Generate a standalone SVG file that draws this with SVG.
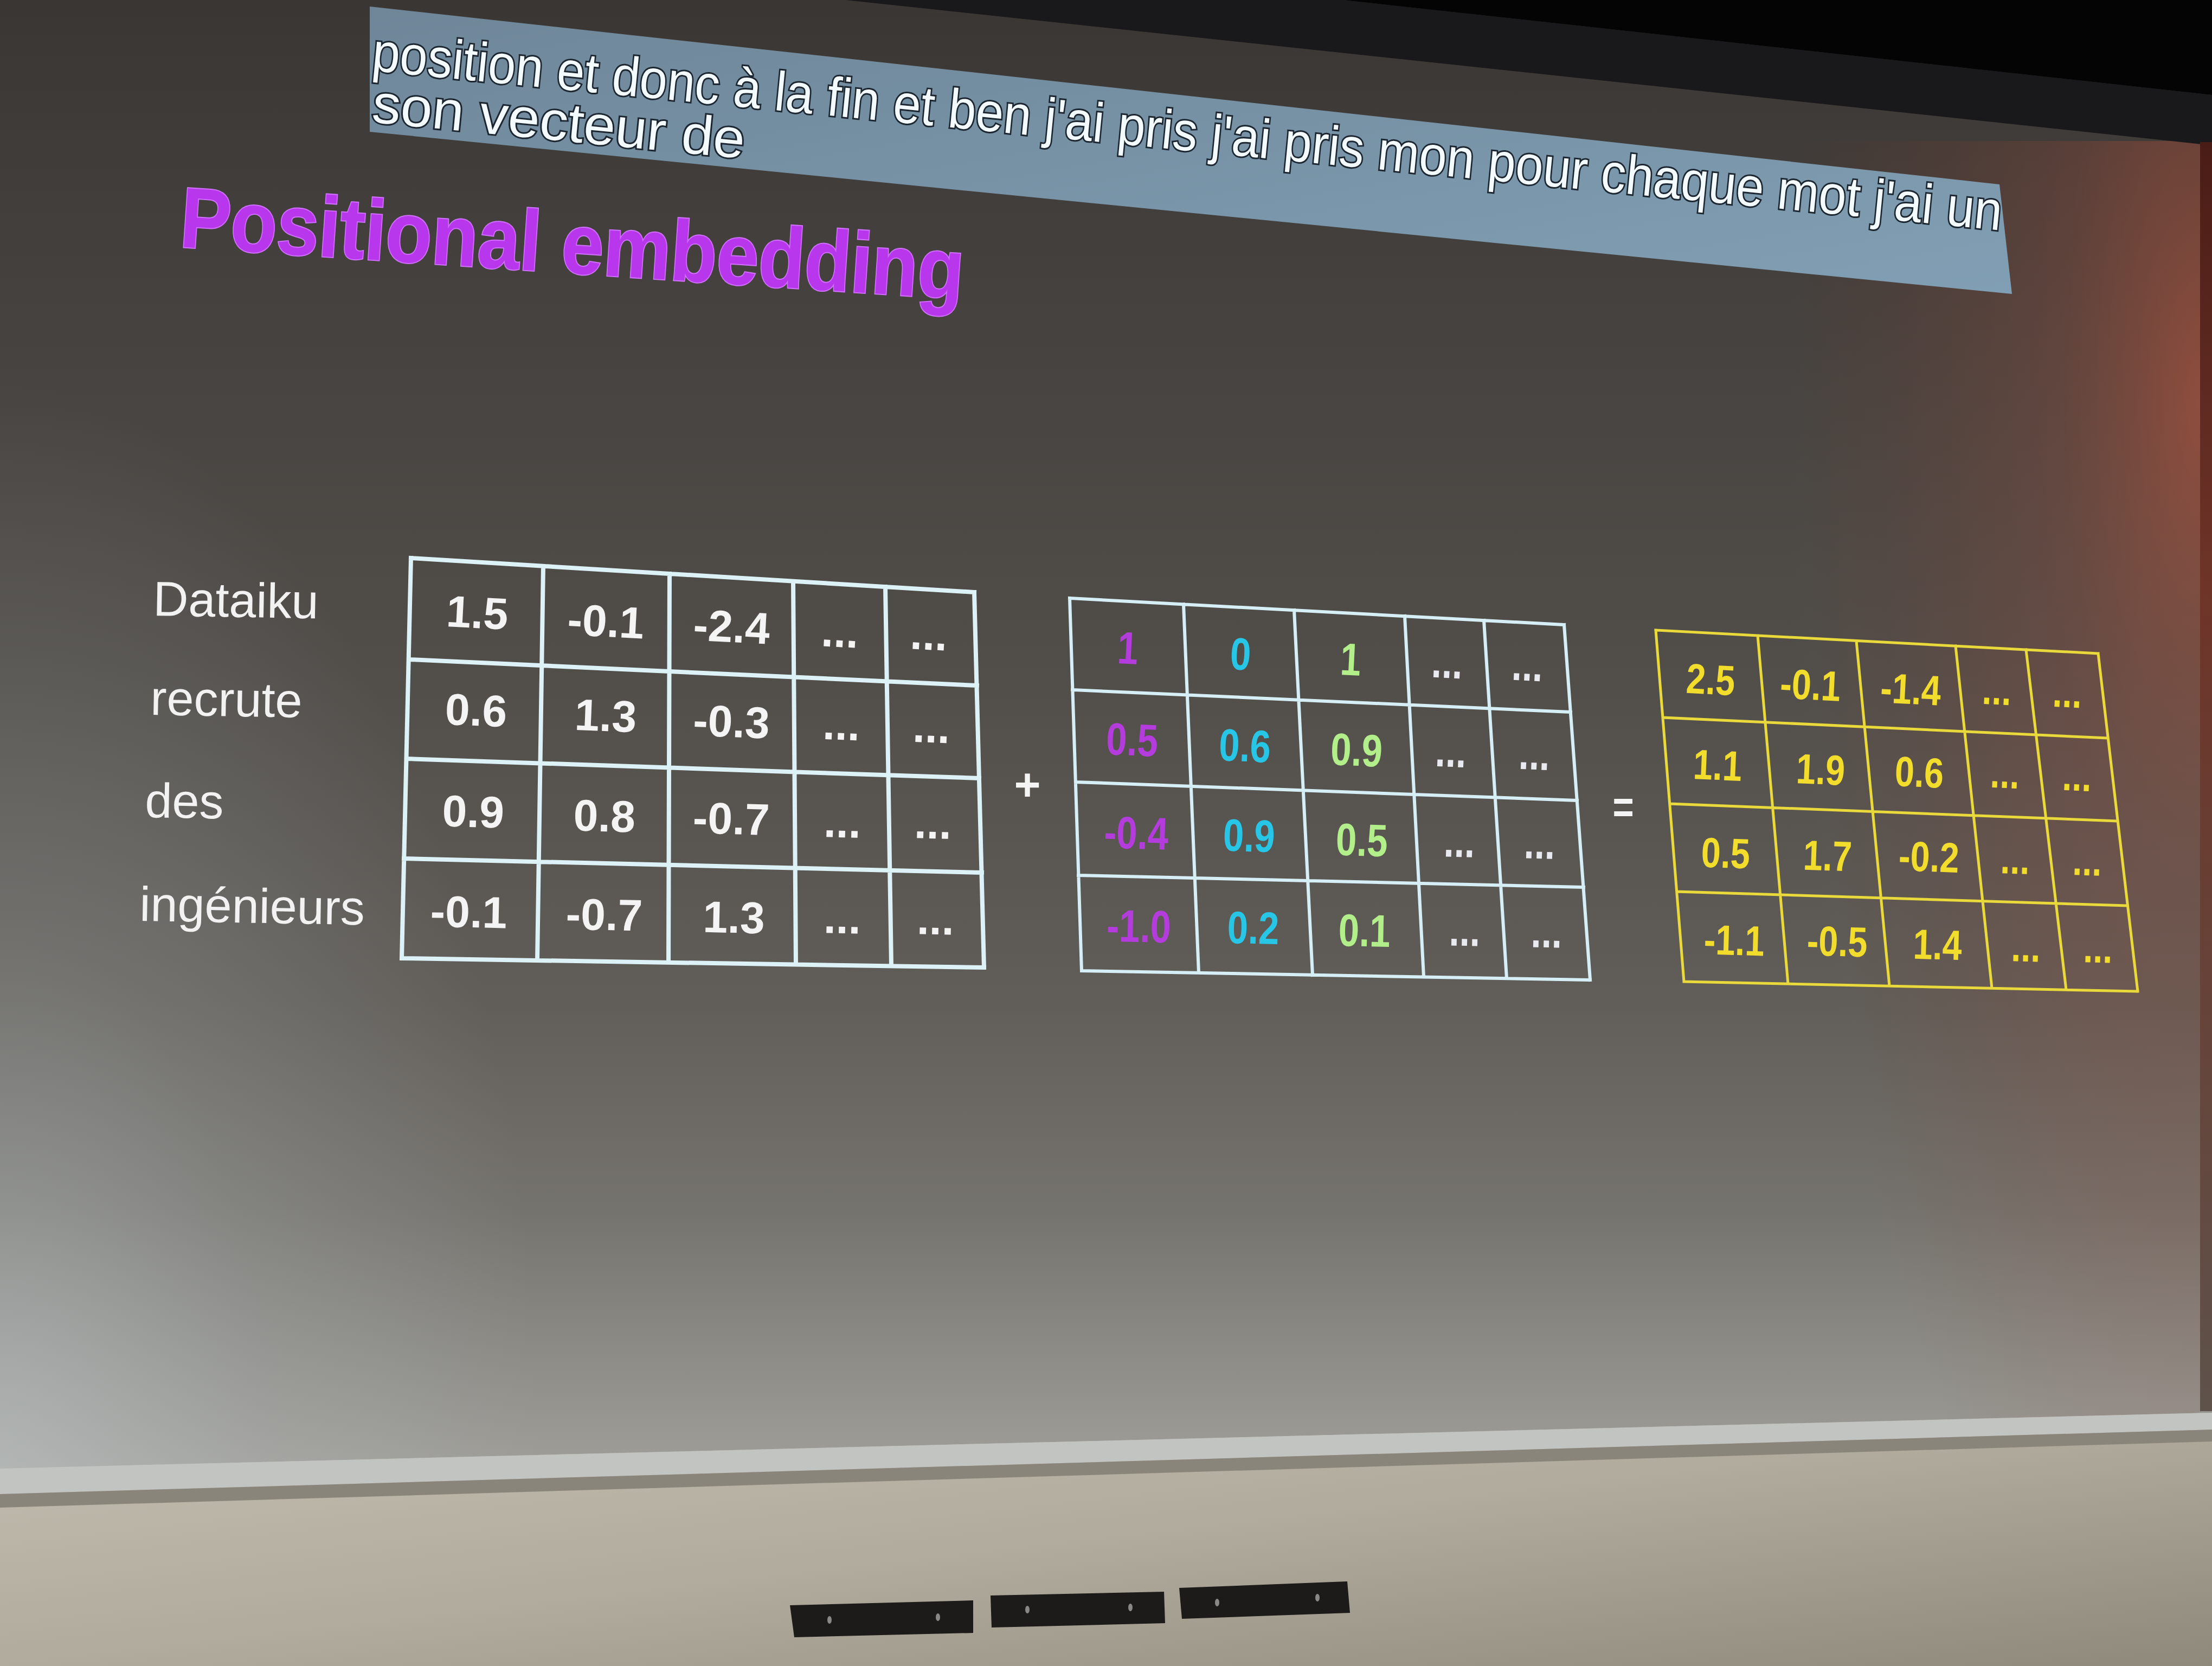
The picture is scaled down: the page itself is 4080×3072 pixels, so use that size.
<svg xmlns="http://www.w3.org/2000/svg" width="4080" height="3072" viewBox="0 0 4080 3072">
<defs>
<linearGradient id="scr" x1="0" y1="0" x2="0" y2="1">
<stop offset="0" stop-color="#3a3633"/>
<stop offset="0.12" stop-color="#413d3a"/>
<stop offset="0.45" stop-color="#514e4a"/>
<stop offset="0.68" stop-color="#615e59"/>
<stop offset="0.82" stop-color="#75736e"/>
<stop offset="0.92" stop-color="#8d8c87"/>
<stop offset="1" stop-color="#a09f9a"/>
</linearGradient>
<radialGradient id="leftlight" cx="0" cy="1" r="1">
<stop offset="0" stop-color="#c4cdd0" stop-opacity="0.5"/>
<stop offset="0.5" stop-color="#c4cdd0" stop-opacity="0.18"/>
<stop offset="1" stop-color="#c4cdd0" stop-opacity="0"/>
</radialGradient>
<radialGradient id="redglow" cx="1" cy="0.2" r="1">
<stop offset="0" stop-color="#c8543a" stop-opacity="0.55"/>
<stop offset="0.35" stop-color="#a84a36" stop-opacity="0.25"/>
<stop offset="1" stop-color="#803020" stop-opacity="0"/>
</radialGradient>
<linearGradient id="wall" x1="0" y1="0" x2="1" y2="1">
<stop offset="0" stop-color="#c3beb1"/>
<stop offset="0.5" stop-color="#b1ab9d"/>
<stop offset="1" stop-color="#8f897b"/>
</linearGradient>
<linearGradient id="cap" x1="0" y1="0" x2="1" y2="1">
<stop offset="0" stop-color="#6e8698"/>
<stop offset="1" stop-color="#819fb4"/>
</linearGradient>
<linearGradient id="rstrip" x1="0" y1="0" x2="0" y2="1">
<stop offset="0" stop-color="#4a1c16"/>
<stop offset="0.35" stop-color="#6e3428"/>
<stop offset="1" stop-color="#5e524a"/>
</linearGradient>
<style>
.lbl{font-family:"Liberation Sans",Arial,sans-serif;font-size:90px;fill:#f2f2f2}
.n1{font-family:"Liberation Sans",Arial,sans-serif;font-weight:bold;font-size:82px;fill:#f4f4f4;text-anchor:middle}
.n2{font-family:"Liberation Sans",Arial,sans-serif;font-weight:bold;font-size:84px;text-anchor:middle}
.n3{font-family:"Liberation Sans",Arial,sans-serif;font-weight:bold;font-size:78px;fill:#f2dc2c;text-anchor:middle}
.mag{fill:#b43cdc}.cya{fill:#28c6e6}.grn{fill:#b2ee8a}.wht{fill:#e8eaf0}
.g1{fill:none;stroke:#dcf2f6;stroke-width:8;stroke-linecap:square}
.g2{fill:none;stroke:#d6eef6;stroke-width:6;stroke-linecap:square}
.g3{fill:none;stroke:#ead93a;stroke-width:5;stroke-linecap:square}
.capt{font-family:"Liberation Sans",Arial,sans-serif;font-size:102px;fill:#f4fbff;stroke:#1c2630;stroke-width:6;paint-order:stroke}
.plate{fill:#1c1b1a}
.pdot{fill:#8a8884}
</style>
</defs>

<!-- background: projection screen -->
<rect x="0" y="0" width="4080" height="2720" fill="url(#scr)"/>
<rect x="0" y="700" width="1000" height="2020" fill="url(#leftlight)"/>
<rect x="3300" y="260" width="760" height="2400" fill="url(#redglow)"/>
<!-- ceiling and screen housing -->
<polygon points="1560,0 4080,268 4080,175 2477,0" fill="#19181a"/>
<polygon points="2477,0 4080,0 4080,175" fill="#040404"/>
<rect x="4058" y="262" width="22" height="2340" fill="url(#rstrip)"/>
<!-- wall below screen -->
<polygon points="0,2708 4080,2605 4080,3072 0,3072" fill="url(#wall)"/>
<polygon points="0,2708 4080,2605 4080,2636 0,2755" fill="#c2c4c1"/>
<polygon points="0,2755 4080,2636 4080,2658 0,2780" fill="#8a857b"/>

<g id="switches">
<polygon class="plate" points="1457,2960 1795,2951 1795,3011 1465,3019"/>
<polygon class="plate" points="1827,2942 2147,2935 2149,2993 1829,3001"/>
<polygon class="plate" points="2175,2928 2485,2916 2490,2974 2180,2985"/>
<ellipse class="pdot" cx="1530" cy="2987" rx="4" ry="7"/>
<ellipse class="pdot" cx="1730" cy="2982" rx="4" ry="7"/>
<ellipse class="pdot" cx="1895" cy="2968" rx="4" ry="7"/>
<ellipse class="pdot" cx="2085" cy="2964" rx="4" ry="7"/>
<ellipse class="pdot" cx="2245" cy="2955" rx="4" ry="7"/>
<ellipse class="pdot" cx="2430" cy="2946" rx="4" ry="7"/>
</g>

<g id="caption">
<polygon points="682,12 3688,340 3711,542 682,243" fill="url(#cap)"/>
<text class="capt" transform="translate(684,130) rotate(5.6)" textLength="3020" lengthAdjust="spacingAndGlyphs">position et donc à la fin et ben j'ai pris j'ai pris mon pour chaque mot j'ai un</text>
<text class="capt" transform="translate(684,225) rotate(5.6)" textLength="690" lengthAdjust="spacingAndGlyphs">son vecteur de</text>
</g>

<g id="title">
<text transform="translate(330,455) rotate(3.84)" textLength="1448" lengthAdjust="spacingAndGlyphs" font-family="Liberation Sans, Arial, sans-serif" font-weight="bold" font-size="158" fill="#b836ec" stroke="#d070ff" stroke-width="4" paint-order="stroke">Positional embedding</text>
</g>

<g id="labels">
<text class="lbl" transform="translate(282,1135) rotate(1)">Dataiku</text>
<text class="lbl" transform="translate(277,1318) rotate(1)">recrute</text>
<text class="lbl" transform="translate(267,1507) rotate(1)">des</text>
<text class="lbl" transform="translate(257,1698) rotate(1)">ingénieurs</text>
</g>

<g id="matrix-embedding">
<path class="g1" d="M758,1029 L1797,1092 M754,1216 L1802,1264 M750,1399 L1806,1435 M745,1583 L1811,1609 M741,1767 L1815,1784 M758,1029 L741,1767 M1002,1044 L991,1771 M1235,1058 L1233,1775 M1463,1072 L1468,1779 M1633,1082 L1644,1781 M1797,1092 L1815,1784"/>
<text class="n1" transform="translate(879,1158) rotate(3)">1.5</text>
<text class="n1" transform="translate(1116,1174) rotate(3)">-0.1</text>
<text class="n1" transform="translate(1348,1184) rotate(3)">-2.4</text>
<text class="n1" transform="translate(1548,1193) rotate(3)">...</text>
<text class="n1" transform="translate(1712,1198) rotate(3)">...</text>
<text class="n1" transform="translate(877,1338) rotate(2.3)">0.6</text>
<text class="n1" transform="translate(1116,1348) rotate(2.3)">1.3</text>
<text class="n1" transform="translate(1348,1359) rotate(2.3)">-0.3</text>
<text class="n1" transform="translate(1551,1364) rotate(2.3)">...</text>
<text class="n1" transform="translate(1717,1369) rotate(2.3)">...</text>
<text class="n1" transform="translate(872,1525) rotate(1.7)">0.9</text>
<text class="n1" transform="translate(1114,1533) rotate(1.7)">0.8</text>
<text class="n1" transform="translate(1348,1538) rotate(1.7)">-0.7</text>
<text class="n1" transform="translate(1553,1544) rotate(1.7)">...</text>
<text class="n1" transform="translate(1720,1546) rotate(1.7)">...</text>
<text class="n1" transform="translate(864,1710) rotate(1.15)">-0.1</text>
<text class="n1" transform="translate(1114,1715) rotate(1.15)">-0.7</text>
<text class="n1" transform="translate(1353,1720) rotate(1.15)">1.3</text>
<text class="n1" transform="translate(1553,1721) rotate(1.15)">...</text>
<text class="n1" transform="translate(1725,1723) rotate(1.15)">...</text>
</g>

<g id="op-plus">
<text transform="translate(1895,1476)" font-family="Liberation Sans, Arial, sans-serif" font-weight="bold" font-size="84" fill="#f4f4f4" text-anchor="middle">+</text>
</g>

<g id="matrix-positional">
<path class="g2" d="M1973,1103 L2885,1152 M1978,1272 L2897,1313 M1984,1442 L2909,1476 M1989,1614 L2921,1636 M1995,1790 L2933,1807 M1973,1103 L1995,1790 M2183,1114 L2211,1794 M2387,1125 L2421,1798 M2591,1136 L2626,1801 M2737,1144 L2779,1804 M2885,1152 L2933,1807"/>
<text class="n2 mag" transform="translate(2079,1224) rotate(2.8) scale(0.82,1)">1</text>
<text class="n2 cya" transform="translate(2287,1235) rotate(2.8) scale(0.82,1)">0</text>
<text class="n2 grn" transform="translate(2490,1245) rotate(2.8) scale(0.82,1)">1</text>
<text class="n2 wht" transform="translate(2668,1250) rotate(2.8) scale(0.82,1)">...</text>
<text class="n2 wht" transform="translate(2816,1255) rotate(2.8) scale(0.82,1)">...</text>
<text class="n2 mag" transform="translate(2087,1393) rotate(2.35) scale(0.82,1)">0.5</text>
<text class="n2 cya" transform="translate(2295,1404) rotate(2.35) scale(0.82,1)">0.6</text>
<text class="n2 grn" transform="translate(2501,1412) rotate(2.35) scale(0.82,1)">0.9</text>
<text class="n2 wht" transform="translate(2675,1414) rotate(2.35) scale(0.82,1)">...</text>
<text class="n2 wht" transform="translate(2829,1419) rotate(2.35) scale(0.82,1)">...</text>
<text class="n2 mag" transform="translate(2095,1565) rotate(1.7) scale(0.82,1)">-0.4</text>
<text class="n2 cya" transform="translate(2303,1570) rotate(1.7) scale(0.82,1)">0.9</text>
<text class="n2 grn" transform="translate(2511,1578) rotate(1.7) scale(0.82,1)">0.5</text>
<text class="n2 wht" transform="translate(2691,1580) rotate(1.7) scale(0.82,1)">...</text>
<text class="n2 wht" transform="translate(2839,1583) rotate(1.7) scale(0.82,1)">...</text>
<text class="n2 mag" transform="translate(2100,1737) rotate(1.2) scale(0.82,1)">-1.0</text>
<text class="n2 cya" transform="translate(2311,1740) rotate(1.2) scale(0.82,1)">0.2</text>
<text class="n2 grn" transform="translate(2516,1745) rotate(1.2) scale(0.82,1)">0.1</text>
<text class="n2 wht" transform="translate(2701,1744) rotate(1.2) scale(0.82,1)">...</text>
<text class="n2 wht" transform="translate(2852,1747) rotate(1.2) scale(0.82,1)">...</text>
</g>

<g id="op-equals">
<text transform="translate(2994,1517) scale(0.8,1)" font-family="Liberation Sans, Arial, sans-serif" font-weight="bold" font-size="84" fill="#f4f4f4" text-anchor="middle">=</text>
</g>

<g id="matrix-result">
<path class="g3" d="M3054,1162 L3870,1205 M3067,1323 L3888,1361 M3080,1482 L3906,1514 M3093,1644 L3924,1670 M3106,1810 L3943,1828 M3054,1162 L3106,1810 M3242,1172 L3298,1814 M3424,1182 L3485,1818 M3607,1191 L3674,1822 M3737,1198 L3811,1825 M3870,1205 L3943,1828"/>
<text class="n3" transform="translate(3154,1280) rotate(2.83) scale(0.83,1)">2.5</text>
<text class="n3" transform="translate(3338,1290) rotate(2.83) scale(0.83,1)">-0.1</text>
<text class="n3" transform="translate(3523,1298) rotate(2.83) scale(0.83,1)">-1.4</text>
<text class="n3" transform="translate(3682,1299) rotate(2.83) scale(0.83,1)">...</text>
<text class="n3" transform="translate(3812,1304) rotate(2.83) scale(0.83,1)">...</text>
<text class="n3" transform="translate(3167,1438) rotate(2.4) scale(0.83,1)">1.1</text>
<text class="n3" transform="translate(3357,1446) rotate(2.4) scale(0.83,1)">1.9</text>
<text class="n3" transform="translate(3539,1451) rotate(2.4) scale(0.83,1)">0.6</text>
<text class="n3" transform="translate(3697,1453) rotate(2.4) scale(0.83,1)">...</text>
<text class="n3" transform="translate(3830,1458) rotate(2.4) scale(0.83,1)">...</text>
<text class="n3" transform="translate(3182,1600) rotate(2) scale(0.83,1)">0.5</text>
<text class="n3" transform="translate(3370,1605) rotate(2) scale(0.83,1)">1.7</text>
<text class="n3" transform="translate(3557,1607) rotate(2) scale(0.83,1)">-0.2</text>
<text class="n3" transform="translate(3716,1611) rotate(2) scale(0.83,1)">...</text>
<text class="n3" transform="translate(3849,1614) rotate(2) scale(0.83,1)">...</text>
<text class="n3" transform="translate(3198,1761) rotate(1.5) scale(0.83,1)">-1.1</text>
<text class="n3" transform="translate(3388,1763) rotate(1.5) scale(0.83,1)">-0.5</text>
<text class="n3" transform="translate(3573,1769) rotate(1.5) scale(0.83,1)">1.4</text>
<text class="n3" transform="translate(3736,1773) rotate(1.5) scale(0.83,1)">...</text>
<text class="n3" transform="translate(3869,1775) rotate(1.5) scale(0.83,1)">...</text>
</g>
</svg>
